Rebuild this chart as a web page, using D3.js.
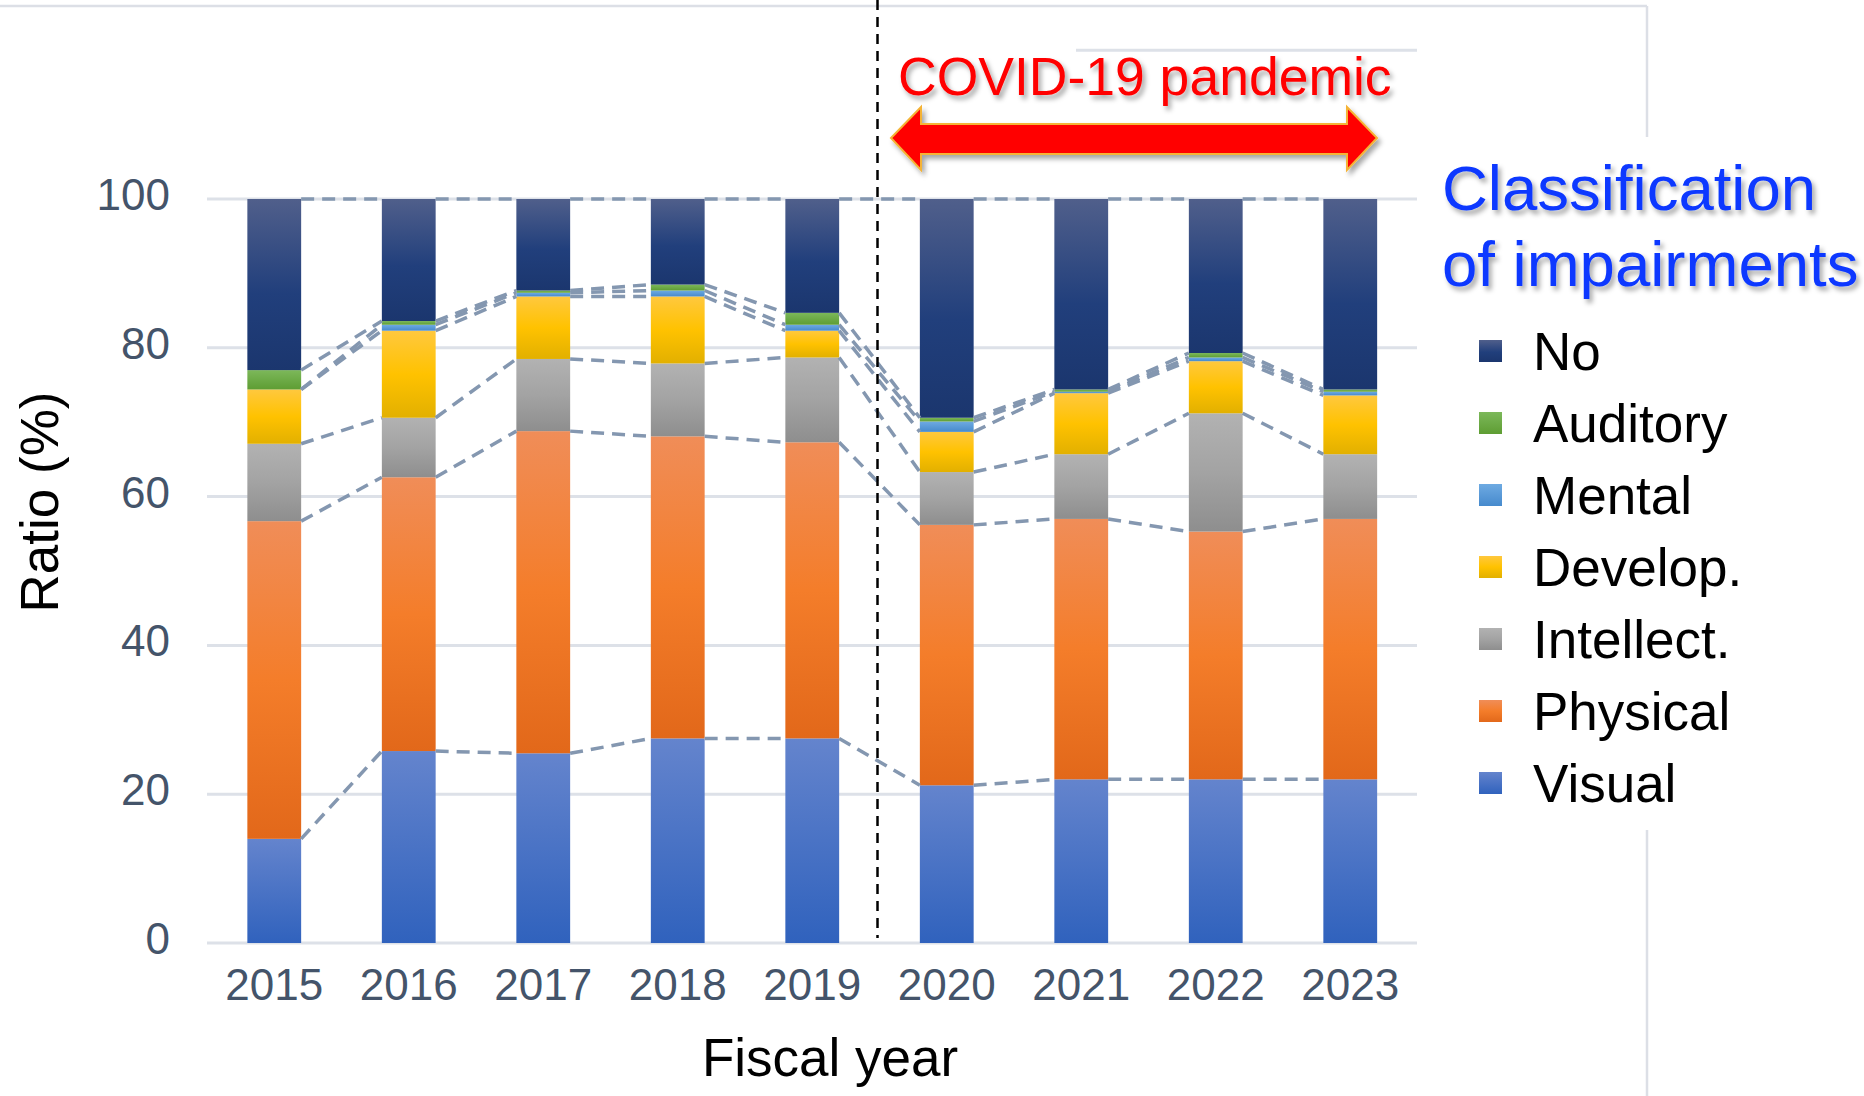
<!DOCTYPE html>
<html><head><meta charset="utf-8">
<script src="https://cdn.jsdelivr.net/npm/d3@7"></script>
<style>body{margin:0;background:#fff}svg{display:block;font-family:"Liberation Sans",Arial,sans-serif}</style>
</head><body>
<script>
const years = ["2015","2016","2017","2018","2019","2020","2021","2022","2023"];
const seriesNames = ["Visual","Physical","Intellect.","Develop.","Mental","Auditory","No"];
const visual    = [14.0, 25.8, 25.5, 27.5, 27.5, 21.2, 22.0, 22.0, 22.0];
const physical  = [42.7, 36.8, 43.3, 40.6, 39.8, 35.0, 35.0, 33.3, 35.0];
const intellect = [10.4,  8.0,  9.7,  9.8, 11.4,  7.1,  8.7, 15.9,  8.7];
const develop   = [ 7.3, 11.7,  8.4,  9.0,  3.6,  5.4,  8.2,  7.0,  7.9];
const mental    = [ 0.0,  0.8,  0.5,  0.8,  0.8,  1.4,  0.2,  0.5,  0.5];
const auditory  = [ 2.6,  0.5,  0.3,  0.8,  1.6,  0.5,  0.3,  0.6,  0.3];
const noImp     = [23.0, 16.4, 12.3, 11.5, 15.3, 29.4, 25.6, 20.7, 25.6];
const yTicks = [0, 20, 40, 60, 80, 100];
const legendOrder = ["No","Auditory","Mental","Develop.","Intellect.","Physical","Visual"];

const seriesValues = [visual, physical, intellect, develop, mental, auditory, noImp];
const grads = {
  "Visual":    [["0%","#6484cd"],["100%","#3062bd"]],
  "Physical":  [["0%","#f08d58"],["50%","#f47d2a"],["100%","#e2681a"]],
  "Intellect.":[["0%","#b2b2b2"],["50%","#a3a3a3"],["100%","#8e8e8e"]],
  "Develop.":  [["0%","#ffc83e"],["50%","#ffc200"],["100%","#e2b000"]],
  "Mental":    [["0%","#6eaae2"],["100%","#468acd"]],
  "Auditory":  [["0%","#7cb85a"],["100%","#5e9d33"]],
  "No":        [["0%","#505f8b"],["55%","#213f7c"],["100%","#1b366e"]]
};

const W = 1864, H = 1096;
const svg = d3.select("body").append("svg").attr("width", W).attr("height", H);
const defs = svg.append("defs");
Object.entries(grads).forEach(([k, stops], i) => {
  const g = defs.append("linearGradient").attr("id","g"+i).attr("x1",0).attr("y1",0).attr("x2",0).attr("y2",1);
  stops.forEach(s => g.append("stop").attr("offset", s[0]).attr("stop-color", s[1]));
});
const gradId = k => "url(#g" + Object.keys(grads).indexOf(k) + ")";
const sh = defs.append("filter").attr("id","shadow").attr("x","-10%").attr("y","-20%").attr("width","130%").attr("height","160%");
sh.append("feDropShadow").attr("dx",3).attr("dy",4).attr("stdDeviation",2.5).attr("flood-color","#000").attr("flood-opacity",0.35);

const x = d3.scaleBand().domain(years).range([207, 1417.5]).paddingInner(0.6).paddingOuter(0.3);
const y = d3.scaleLinear().domain([0, 100]).range([943, 199]);

// frame
svg.append("line").attr("x1",0).attr("x2",1647).attr("y1",6).attr("y2",6).attr("stroke","#dcdfe6").attr("stroke-width",2.5);
svg.append("line").attr("x1",1647).attr("x2",1647).attr("y1",6).attr("y2",137).attr("stroke","#dcdfe6").attr("stroke-width",2.5);
svg.append("line").attr("x1",1647).attr("x2",1647).attr("y1",830).attr("y2",H).attr("stroke","#dcdfe6").attr("stroke-width",2.5);

// gridlines
svg.append("g").selectAll("line").data(yTicks).join("line")
  .attr("x1",207).attr("x2",1417).attr("y1",d=>y(d)).attr("y2",d=>y(d))
  .attr("stroke","#dde1e8").attr("stroke-width",3);
svg.append("line").attr("x1",1076).attr("x2",1417).attr("y1",y(120)).attr("y2",y(120)).attr("stroke","#dde1e8").attr("stroke-width",3);

// stack
const table = years.map((yr, i) => {
  const o = {year: yr};
  seriesNames.forEach((s, j) => o[s] = seriesValues[j][i]);
  return o;
});
const stack = d3.stack().keys(seriesNames)(table);

// bars
stack.forEach(layer => {
  svg.append("g").selectAll("rect").data(layer).join("rect")
    .attr("x", d => x(d.data.year)).attr("width", x.bandwidth())
    .attr("y", d => y(d[1])).attr("height", d => Math.max(0, y(d[0]) - y(d[1])))
    .attr("fill", gradId(layer.key));
});

// connector dashed lines
const conn = svg.append("g").attr("fill","none").attr("stroke","#8497b0").attr("stroke-width",3.5).attr("stroke-dasharray","13,8");
stack.forEach(layer => {
  for (let i = 0; i < years.length - 1; i++) {
    conn.append("line")
      .attr("x1", x(years[i]) + x.bandwidth()).attr("y1", y(layer[i][1]))
      .attr("x2", x(years[i+1])).attr("y2", y(layer[i+1][1]));
  }
});

// vertical COVID divider
svg.append("line").attr("x1",877.5).attr("x2",877.5).attr("y1",0).attr("y2",938)
  .attr("stroke","#000").attr("stroke-width",2.5).attr("stroke-dasharray","10,7");

// axes labels
svg.append("g").selectAll("text").data(yTicks).join("text")
  .attr("x",170).attr("y",d=>y(d)+11).attr("text-anchor","end")
  .attr("font-size",44).attr("fill","#44546a").text(d=>d);
svg.append("g").selectAll("text").data(years).join("text")
  .attr("x",d=>x(d)+x.bandwidth()/2).attr("y",1000).attr("text-anchor","middle")
  .attr("font-size",44).attr("fill","#44546a").text(d=>d);
svg.append("text").attr("transform","translate(58,502) rotate(-90)").attr("text-anchor","middle")
  .attr("font-size",53).attr("fill","#000").text("Ratio (%)");
svg.append("text").attr("x",830).attr("y",1076).attr("text-anchor","middle")
  .attr("font-size",53).attr("fill","#000").text("Fiscal year");

// COVID annotation
svg.append("text").attr("x",898).attr("y",95).attr("font-size",53.5).attr("fill","#ff0000")
  .attr("filter","url(#shadow)").text("COVID-19 pandemic");
const ax = d3.path();
ax.moveTo(891,138); ax.lineTo(921,107); ax.lineTo(921,124); ax.lineTo(1347,124); ax.lineTo(1347,107);
ax.lineTo(1377,138); ax.lineTo(1347,170); ax.lineTo(1347,154); ax.lineTo(921,154); ax.lineTo(921,170); ax.closePath();
svg.append("path").attr("d",ax.toString()).attr("fill","#ff0000").attr("stroke","#f5b335").attr("stroke-width",2)
  .attr("filter","url(#shadow)");

// legend
svg.append("text").attr("x",1442).attr("y",210).attr("font-size",63.5).attr("fill","#0a37ff").attr("filter","url(#shadow)").text("Classification");
svg.append("text").attr("x",1442).attr("y",286).attr("font-size",63.5).attr("fill","#0a37ff").attr("filter","url(#shadow)").text("of impairments");
const lg = svg.append("g").selectAll("g").data(legendOrder).join("g")
  .attr("transform",(d,i)=>`translate(0,${351 + i*72})`);
lg.append("rect").attr("x",1479).attr("y",-11).attr("width",23).attr("height",22).attr("fill",d=>gradId(d));
lg.append("text").attr("x",1533).attr("y",18.5).attr("font-size",53).attr("fill","#000").text(d=>d);
</script>
</body></html>
